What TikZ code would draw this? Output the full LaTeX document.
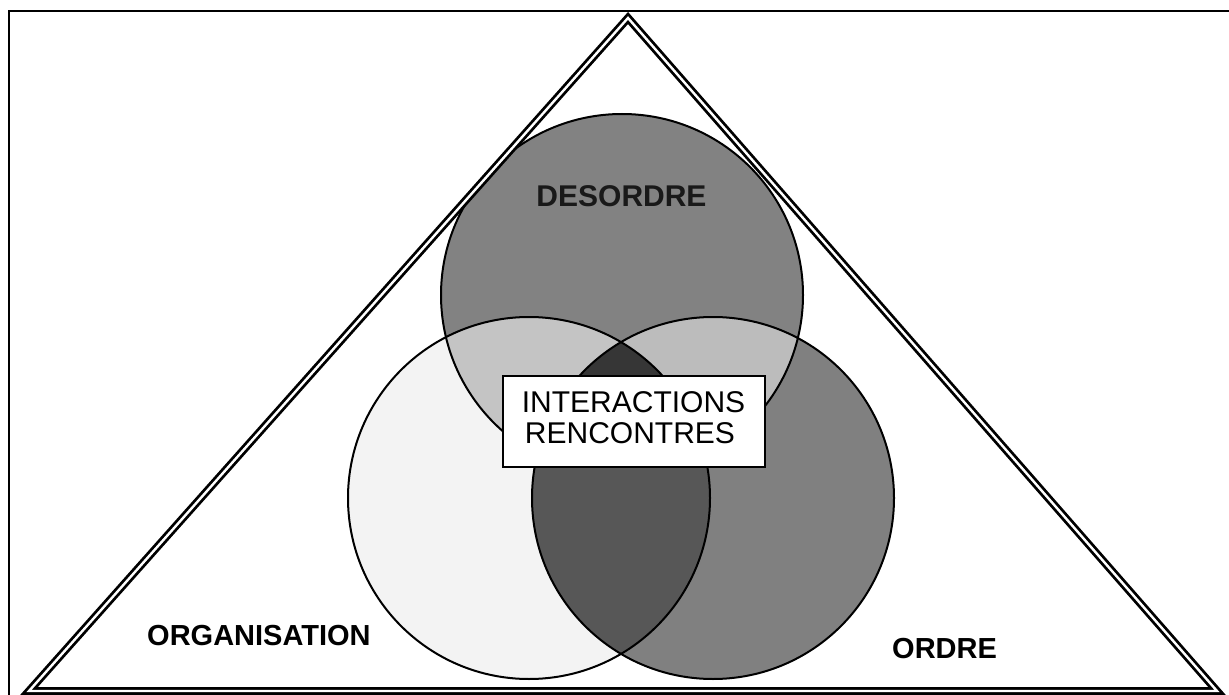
\documentclass[tikz,border=0pt]{standalone}
\usepackage{fontspec}
\setmainfont{Liberation Sans}
\definecolor{cTop}{HTML}{828282}
\definecolor{cLeft}{HTML}{F3F3F3}
\definecolor{cRight}{HTML}{808080}
\definecolor{cTL}{HTML}{C4C4C4}
\definecolor{cTR}{HTML}{BCBCBC}
\definecolor{cLR}{HTML}{575757}
\definecolor{cAll}{HTML}{363636}
\begin{document}
\begin{tikzpicture}[x=1pt,y=-1pt,
  ring/.style={circle,draw=black,line width=2pt,minimum size=362pt,inner sep=0pt},
  lbl/.style={font=\fontsize{29}{31}\selectfont\bfseries,text=black,inner sep=0pt},
  boxtxt/.style={font=\fontsize{30}{31}\selectfont,text=black,inner sep=0pt},
  tri/.style={draw=black,line width=2.8pt,double=white,double distance=2.4pt,line join=miter},
  frameline/.style={draw=black,line width=1.5pt},
  ibox/.style={draw=black,line width=2pt,fill=white,minimum width=262pt,minimum height=91pt,inner sep=0pt}]
\useasboundingbox (0,0) rectangle (1229,695);
\fill[white] (0,0) rectangle (1229,695);
% centres
\coordinate (cT) at (622,295);
\coordinate (cL) at (529,498);
\coordinate (cR) at (713,498);
% fills
\fill[cLeft] (cL) circle[radius=181pt];
\fill[cRight] (cR) circle[radius=181pt];
\begin{scope}
  \clip (cL) circle[radius=181pt];
  \fill[cLR] (cR) circle[radius=181pt];
\end{scope}
\begin{scope}
  \clip (0,0) rectangle (1229,466);
  \fill[cTop] (cT) circle[radius=181pt];
  \begin{scope}
    \clip (cT) circle[radius=181pt];
    \fill[cTL] (cL) circle[radius=181pt];
    \fill[cTR] (cR) circle[radius=181pt];
    \clip (cL) circle[radius=181pt];
    \fill[cAll] (cR) circle[radius=181pt];
  \end{scope}
  \node[ring] (desordre) at (cT) {};
\end{scope}
% outlines
\node[ring] (organisation) at (cL) {};
\node[ring] (ordre) at (cR) {};
% frame
\coordinate (f1) at (9,695);
\coordinate (f2) at (9,11);
\coordinate (f3) at (1229,11);
\draw[frameline] (f1) -- (f2) -- (f3);
% triangle
\coordinate (apex) at (628,18);
\coordinate (bl) at (29,691);
\coordinate (br) at (1217,691);
\draw[tri] (apex) -- (br) -- (bl) -- cycle;
% central box
\node[ibox] (box) at (634,421.5) {};
\node[boxtxt,anchor=base] (int1) at (633.5,412) {INTERACTIONS};
\node[boxtxt,anchor=base] (int2) at (630,443) {RENCONTRES};
% labels
\node[lbl,anchor=base,font=\fontsize{30}{31}\selectfont\bfseries,text=black!90] (tdes) at (621.5,207) {DESORDRE};
\node[lbl,anchor=base west] (torg) at (147,645) {ORGANISATION};
\node[lbl,anchor=base west] (tord) at (892,658) {ORDRE};
\end{tikzpicture}
\end{document}
